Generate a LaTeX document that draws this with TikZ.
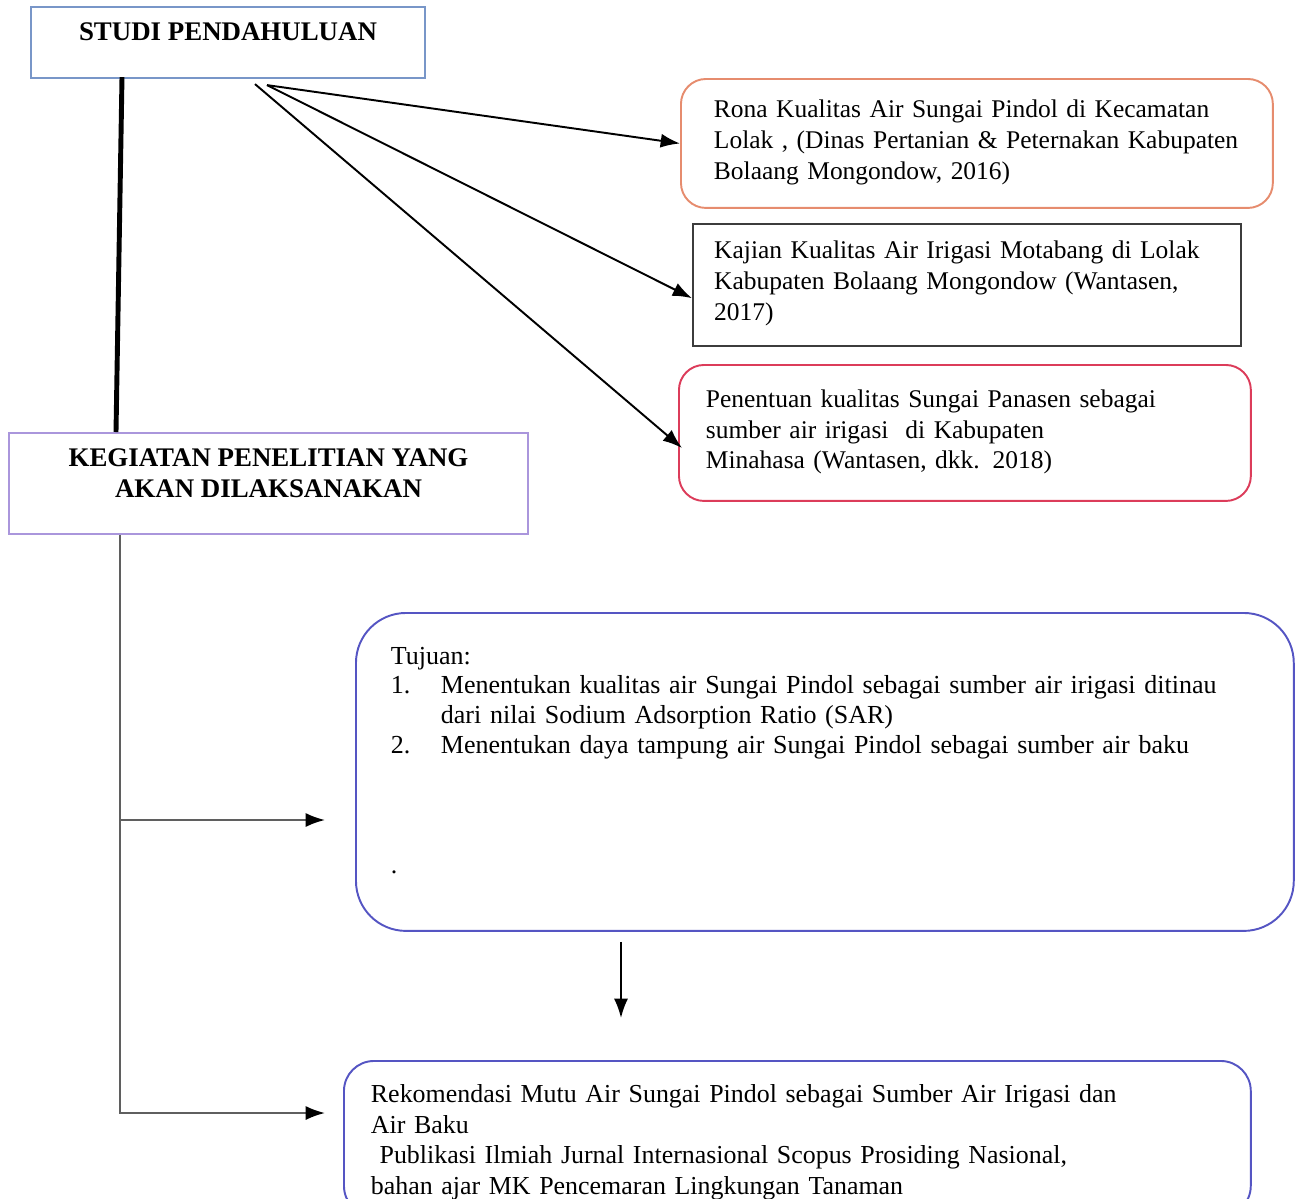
\documentclass[tikz,border=0pt]{standalone}
\usepackage{fontspec}
\setmainfont{Liberation Serif}
\usepackage{tikz}
\usetikzlibrary{calc,positioning,arrows.meta}

\definecolor{studiblue}{RGB}{120,150,200}
\definecolor{kegiatanlila}{RGB}{170,150,220}
\definecolor{ronaoranye}{RGB}{230,140,110}
\definecolor{kajianabu}{RGB}{60,60,60}
\definecolor{panasenmerah}{RGB}{220,60,90}
\definecolor{tujuanbiru}{RGB}{85,85,195}
\definecolor{garisabu}{RGB}{95,95,95}

% penyangga kedalaman baris terakhir (menggeser teks ke atas)
\newcommand{\dalam}[1]{\rule[-#1]{0pt}{0pt}}

\begin{document}
\begin{tikzpicture}
[x=0.02cm,y=-0.02cm,
 every node/.style={font=\fontsize{14.5}{17.6}\selectfont},
 judul/.style={draw=#1,line width=1.2pt,anchor=north west,align=center,
               inner sep=0pt,font=\fontsize{15.3}{17.6}\selectfont\bfseries},
 kotak/.style={draw=#1,line width=1.1pt,anchor=north west,align=left,
               inner ysep=0pt},
 panah/.style={line width=1.1pt,-{Latex[length=11pt,width=8pt,color=black]}},
 garis/.style={draw=garisabu,line width=1.2pt}]

    \useasboundingbox (0,0) rectangle (1296,1198);

    % kotak judul di kiri
    \node[judul=studiblue,minimum width=7.88cm,minimum height=1.42cm]
        (studi) at (30,6) {STUDI PENDAHULUAN\dalam{0.43cm}};
    \node[judul=kegiatanlila,minimum width=10.38cm,minimum height=2.02cm]
        (kegiatan) at (8,432) {KEGIATAN PENELITIAN YANG\\AKAN DILAKSANAKAN\dalam{0.43cm}};

    % tiga kajian terdahulu
    \node[kotak=ronaoranye,rounded corners=0.5cm,inner xsep=0.66cm,
          text width=10.52cm,minimum height=2.58cm] (rona) at (680,78)
        {Rona Kualitas Air Sungai Pindol di Kecamatan\\
         Lolak , (Dinas Pertanian \& Peternakan Kabupaten\\
         Bolaang Mongondow, 2016)\dalam{0.15cm}};
    \node[kotak=kajianabu,line width=1.4pt,inner xsep=0.42cm,
          text width=10.12cm,minimum height=2.44cm] (kajian) at (692,223)
        {Kajian Kualitas Air Irigasi Motabang di Lolak\\
         Kabupaten Bolaang Mongondow (Wantasen,\\
         2017)\dalam{0.17cm}};
    \node[kotak=panasenmerah,rounded corners=0.5cm,inner xsep=0.54cm,
          text width=10.36cm,minimum height=2.72cm] (penentuan) at (678,364)
        {Penentuan kualitas Sungai Panasen sebagai\\
         sumber air irigasi\ \ di Kabupaten\\
         Minahasa (Wantasen, dkk. 2018)\dalam{0.15cm}};

    % tujuan dan luaran
    \node[kotak=tujuanbiru,rounded corners=1cm,inner xsep=0.7cm,
          text width=17.36cm,minimum height=6.36cm,
          font=\fontsize{14.8}{17}\selectfont] (tujuan) at (355,612)
        {Tujuan:\\
         \makebox[1cm][l]{1.}Menentukan kualitas air Sungai Pindol sebagai sumber air irigasi ditinau\\
         \hspace*{1cm}dari nilai Sodium Adsorption Ratio (SAR)\\
         \makebox[1cm][l]{2.}Menentukan daya tampung air Sungai Pindol sebagai sumber air baku\\[51pt]
         .\dalam{0.48cm}};
    \node[kotak=tujuanbiru,rounded corners=0.6cm,inner xsep=0.54cm,
          text width=17.06cm,minimum height=3.1cm,
          font=\fontsize{14.75}{17.4}\selectfont] (rekom) at (343,1060)
        {\rule{0pt}{0.52cm}Rekomendasi Mutu Air Sungai Pindol sebagai Sumber Air Irigasi dan\\
         Air Baku\\
         \ Publikasi Ilmiah Jurnal Internasional Scopus Prosiding Nasional,\\
         bahan ajar MK Pencemaran Lingkungan Tanaman};

    % panah dari studi pendahuluan
    \coordinate (pangkal) at ($(studi.south)+(39,6)$);
    \coordinate (pangkal2) at ($(studi.south)+(27,5)$);
    \draw[panah] (pangkal) -- (rona.west);
    \draw[panah] (pangkal) -- ($(kajian.west)+(0,13)$);
    \draw[panah] (pangkal2) -- ($(penentuan.west)+(4,15)$);
    \draw[line width=2.8pt] ($(studi.south west)+(92,-2)$)
        -- ($(kegiatan.north west)+(108,0)$);

    % batang dari kegiatan
    \coordinate (batang) at ($(kegiatan.south west)+(112,0)$);
    \coordinate (panahA) at (325,820);
    \coordinate (panahB) at (325,1113);
    \draw[garis,panah] (batang) |- (panahB);
    \draw[garis,panah] (batang |- panahA) -- (panahA);
    \draw[panah] ($(tujuan.south west)+(266,10)$)
        -- ($(rekom.north west)+(278,-42)$);

\end{tikzpicture}
\end{document}
